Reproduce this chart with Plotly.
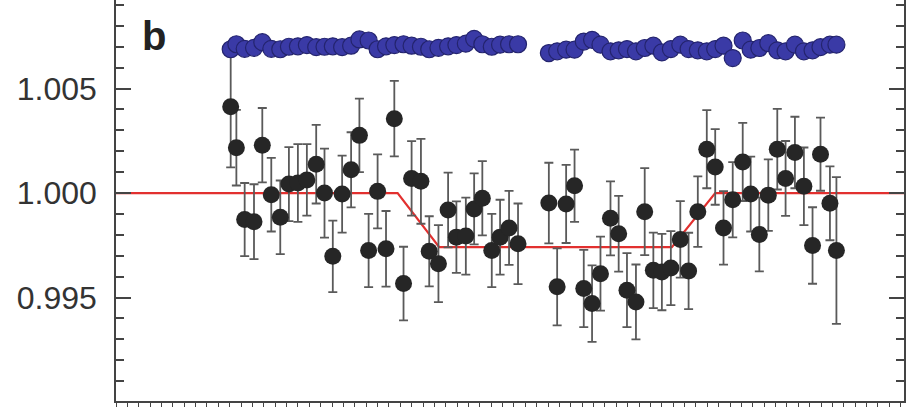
import plotly.graph_objects as go

# time from mid-transit (hours)
time_h = [-2.816, -2.766, -2.693, -2.611, -2.538, -2.459, -2.380, -2.304, -2.225, -2.146,
          -2.064, -1.991, -1.918, -1.836, -1.757, -1.684, -1.603, -1.524, -1.450, -1.377,
          -1.296, -1.225, -1.143, -1.070, -0.989, -0.904, -0.831, -0.748, -0.675, -0.603,
          -0.520, -0.447, -0.368, -0.289,
          -0.018, 0.055, 0.134, 0.208, 0.289, 0.362, 0.436, 0.524, 0.596, 0.669,
          0.748, 0.825, 0.901, 0.976, 1.055, 1.138, 1.211, 1.292, 1.371, 1.445,
          1.518, 1.599, 1.687, 1.757, 1.833, 1.912, 1.991, 2.064, 2.146, 2.225,
          2.301, 2.371, 2.454, 2.511]

# relative flux (black points)
flux = [1.00413, 1.00217, 0.99873, 0.99863, 1.00229, 0.99992, 0.99884, 1.00043, 1.00048, 1.00063,
        1.00138, 1.00000, 0.99697, 0.99995, 1.00111, 1.00276, 0.99725, 1.00008, 0.99733, 1.00356,
        0.99567, 1.00070, 1.00056, 0.99721, 0.99662, 0.99919, 0.99789, 0.99794, 0.99924, 0.99975,
        0.99725, 0.99789, 0.99833, 0.99757,
        0.99952, 0.99551, 0.99948, 1.00035, 0.99543, 0.99471, 0.99614, 0.99879, 0.99805, 0.99535,
        0.99479, 0.99911, 0.99630, 0.99622, 0.99641, 0.99778, 0.99627, 0.99911, 1.00210, 1.00125,
        0.99833, 0.99968, 1.00149, 0.99995, 0.99802, 0.99990, 1.00210, 1.00070, 1.00194, 1.00032,
        0.99749, 1.00186, 0.99951, 0.99725]

flux_err = [0.00290, 0.00181, 0.00175, 0.00179, 0.00178, 0.00176, 0.00176, 0.00177, 0.00186, 0.00171,
            0.00188, 0.00213, 0.00171, 0.00184, 0.00180, 0.00176, 0.00175, 0.00177, 0.00181, 0.00181,
            0.00176, 0.00178, 0.00203, 0.00168, 0.00184, 0.00179, 0.00171, 0.00184, 0.00170, 0.00178,
            0.00175, 0.00179, 0.00177, 0.00193,
            0.00193, 0.00184, 0.00187, 0.00173, 0.00185, 0.00183, 0.00177, 0.00177, 0.00181, 0.00177,
            0.00179, 0.00208, 0.00181, 0.00183, 0.00177, 0.00183, 0.00183, 0.00169, 0.00187, 0.00181,
            0.00176, 0.00180, 0.00187, 0.00179, 0.00177, 0.00171, 0.00193, 0.00179, 0.00171, 0.00186,
            0.00183, 0.00175, 0.00177, 0.00351]

# comparison series (blue points, offset)
flux_blue = [1.00688, 1.00712, 1.00690, 1.00695, 1.00722, 1.00690, 1.00688, 1.00700, 1.00702, 1.00708,
             1.00698, 1.00700, 1.00702, 1.00698, 1.00705, 1.00735, 1.00730, 1.00688, 1.00702, 1.00708,
             1.00712, 1.00705, 1.00700, 1.00688, 1.00695, 1.00702, 1.00708, 1.00715, 1.00738, 1.00712,
             1.00700, 1.00710, 1.00712, 1.00712,
             1.00670, 1.00678, 1.00686, 1.00686, 1.00725, 1.00733, 1.00710, 1.00678, 1.00683, 1.00689,
             1.00678, 1.00694, 1.00705, 1.00673, 1.00689, 1.00710, 1.00689, 1.00683, 1.00678, 1.00689,
             1.00705, 1.00646, 1.00730, 1.00686, 1.00694, 1.00717, 1.00683, 1.00678, 1.00710, 1.00678,
             1.00683, 1.00698, 1.00710, 1.00710]
blue_err = 0.00018

# transit model (red line)
model_t = [-4.0, -1.348, -0.982, 1.064, 1.445, 3.2]
model_f = [1.0, 1.0, 0.99741, 0.99741, 1.0, 1.0]

y_ticks = [0.995, 1.000, 1.005]
y_ticktext = ["0.995", "1.000", "1.005"]

fig = go.Figure()

fig.add_trace(go.Scatter(
    x=model_t, y=model_f, mode="lines",
    line=dict(color="#e2302f", width=2.2), hoverinfo="skip"))

fig.add_trace(go.Scatter(
    x=time_h, y=flux, mode="markers",
    marker=dict(size=17, color="#262626", line=dict(width=0)),
    error_y=dict(type="data", array=flux_err, visible=True,
                 color="#5a5a5a", thickness=1.8, width=4.5)))

fig.add_trace(go.Scatter(
    x=time_h, y=flux_blue, mode="markers",
    marker=dict(size=17, color="#3a3aa6", line=dict(width=1.2, color="#24246e")),
    error_y=dict(type="constant", value=blue_err, visible=True,
                 color="#15153f", thickness=1, width=2)))

fig.add_annotation(
    text="<b>b</b>", xref="paper", yref="paper",
    x=0.0487, y=0.91, xanchor="center", yanchor="middle",
    showarrow=False,
    font=dict(family="Liberation Sans, Arial, sans-serif", size=40, color="#222222"))

fig.update_layout(
    width=906, height=407,
    margin=dict(l=116, r=0, t=0, b=4),
    paper_bgcolor="white", plot_bgcolor="white",
    showlegend=False,
    font=dict(family="Liberation Sans, Arial, sans-serif", color="#333333"),
    xaxis=dict(
        range=[-3.8246, 3.1053], showgrid=False, zeroline=False,
        showline=True, linecolor="#444444", linewidth=1.5,
        ticks="outside", ticklen=6, tickcolor="#444444", tickwidth=1,
        tick0=-3.8246, dtick=0.1, showticklabels=False, mirror=False),
    yaxis=dict(
        range=[0.990048, 1.009238], showgrid=False, zeroline=False,
        showline=True, linecolor="#444444", linewidth=1.5,
        ticks="inside", ticklen=15, tickcolor="#444444", tickwidth=1.5,
        tickvals=y_ticks, ticktext=y_ticktext,
        tickfont=dict(size=32, color="#333333"),
        ticklabelstandoff=11,
        mirror="allticks",
        minor=dict(dtick=0.001, tick0=0.99, ticks="inside", ticklen=8,
                   tickcolor="#444444", tickwidth=1.5, showgrid=False)),
)

fig.write_html("out.html",
               config={"displayModeBar": False},
               post_script="document.body.style.margin='0';document.body.style.overflow='hidden';")
